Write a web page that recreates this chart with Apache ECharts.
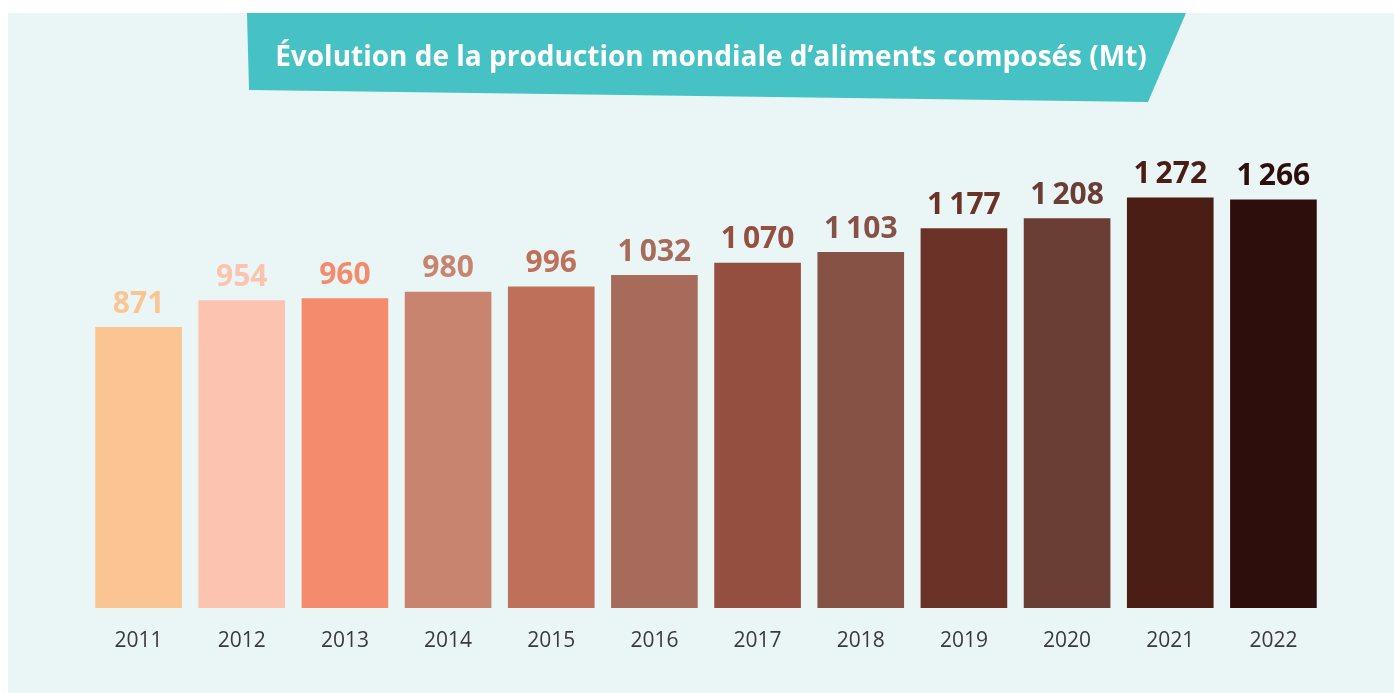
<!DOCTYPE html>
<html>
	<head>
		<meta charset="UTF-8">
		<title>Production mondiale d'aliments composés</title>
		<style>
			html, body { margin: 0; padding: 0; background: #ffffff; }
			#chart { width: 1394px; height: 693px; }
		</style>
	</head>
	<body>
		<div id="chart"></div>

		<script src="https://cdn.jsdelivr.net/npm/echarts@6/dist/echarts.min.js"></script>
		<script>
			// années
			var years = ['2011', '2012', '2013', '2014', '2015', '2016', '2017', '2018', '2019', '2020', '2021', '2022'];
			// production (Mt)
			var production = [871, 954, 960, 980, 996, 1032, 1070, 1103, 1177, 1208, 1272, 1266];
			// couleur de chaque barre
			var barColors = ['#FAC592', '#FBC3B0', '#F48B6D', '#C98470', '#BF705B', '#A66B5A',
				'#954F41', '#865245', '#6B3328', '#6A3E35', '#4A1D15', '#2E0E0D'];

			var titre = 'Évolution de la production mondiale d’aliments composés (Mt)';

			var myChart = echarts.init(document.getElementById('chart'));

			// 1 272 -> espace fine comme séparateur des milliers
			function fmt(v) {
				return String(v).replace(/\B(?=(\d{3})+(?!\d))/g, '\u2009');
			}

			var option = {
				backgroundColor: '#ffffff',
				animation: false,
				graphic: [
					// fond clair
					{
						type: 'rect', z: -10,
						shape: { x: 8, y: 13, width: 1386, height: 680 },
						style: { fill: '#EAF6F6' }
					},
					// bandeau du titre
					{
						type: 'polygon', z: -5,
						shape: { points: [[247, 13], [1186, 13], [1148, 102], [249, 90]] },
						style: { fill: '#46C2C4' }
					}
				],
				title: {
					text: titre,
					left: 706, top: 39, textAlign: 'center',
					textStyle: { color: '#ffffff', fontFamily: 'Open Sans', fontWeight: 'bold', fontSize: 28 }
				},
				grid: { left: 87, right: 69, top: 124, bottom: 85 },
				xAxis: {
					type: 'category',
					data: years,
					axisLine: { show: false },
					axisTick: { show: false },
					axisLabel: { color: '#3A3A3A', fontFamily: 'Open Sans', fontSize: 21, margin: 23 }
				},
				yAxis: {
					type: 'value',
					min: 0, max: 1500,
					show: false,
					splitLine: { show: false }
				},
				series: [{
					type: 'bar',
					barWidth: '84%',
					data: production.map(function (v, i) {
						return {
							value: v,
							itemStyle: { color: barColors[i] },
							label: { color: barColors[i] }
						};
					}),
					label: {
						show: true,
						position: 'top',
						distance: 8,
						fontFamily: 'Open Sans',
						fontWeight: 'bold',
						fontSize: 30,
						formatter: function (p) { return fmt(p.value); }
					}
				}]
			};

			myChart.setOption(option);
		</script>
	</body>
</html>
